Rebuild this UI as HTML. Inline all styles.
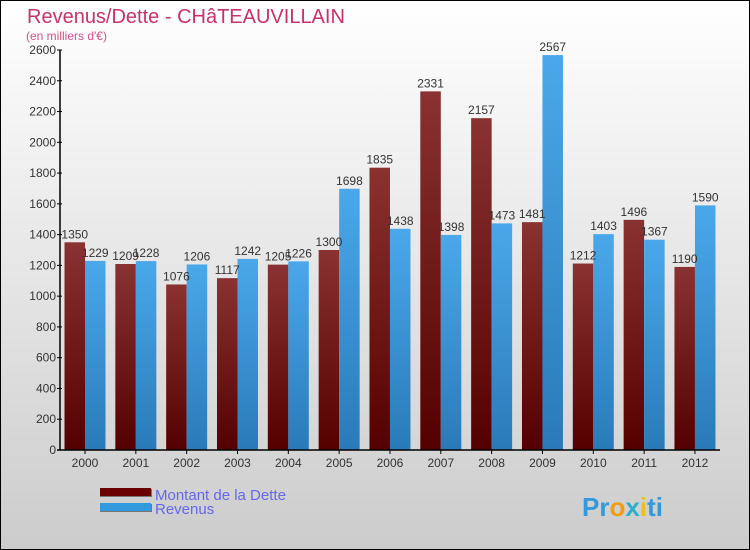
<!DOCTYPE html>
<html><head><meta charset="utf-8"><style>
body{margin:0}
#c{width:750px;height:550px;position:relative;overflow:hidden}
text{font-family:"Liberation Sans",sans-serif}
</style></head><body>
<div id="c">
<svg id="s" width="750" height="550" xmlns="http://www.w3.org/2000/svg">
<defs>
<linearGradient id="bg" x1="0" y1="0" x2="0" y2="1"><stop offset="0" stop-color="#ffffff"/><stop offset="1" stop-color="#cccccc"/></linearGradient>
<linearGradient id="gd" x1="0" y1="0" x2="0" y2="1"><stop offset="0" stop-color="#8a3232"/><stop offset="1" stop-color="#550000"/></linearGradient>
<linearGradient id="gr" x1="0" y1="0" x2="0" y2="1"><stop offset="0" stop-color="#4aa8ea"/><stop offset="1" stop-color="#2a7ab8"/></linearGradient>
</defs>
<rect x="0.5" y="0.5" width="749" height="549" fill="url(#bg)" stroke="#000"/>
<text x="27" y="23" font-size="20" fill="#c8326a">Revenus/Dette - CHâTEAUVILLAIN</text>
<text x="26" y="40" font-size="12" fill="#d0508a">(en milliers d'€)</text>
<g id="plot"></g>
<rect x="100" y="489" width="52" height="8" fill="#777"/>
<rect x="100" y="488" width="51" height="8" fill="#6a0000"/>
<text x="155" y="500" font-size="15" fill="#6666ee">Montant de la Dette</text>
<rect x="100" y="504" width="52" height="8" fill="#777"/>
<rect x="100" y="503" width="51" height="8" fill="#3399dd"/>
<text x="155" y="514" font-size="15" fill="#6666ee">Revenus</text>
<text x="582" y="516" font-size="26" font-weight="bold"><tspan fill="#3399dd">Pr</tspan><tspan fill="#f39c12">o</tspan><tspan fill="#2ab0c8">x</tspan><tspan fill="#e8c020">i</tspan><tspan fill="#3399dd">ti</tspan></text>
</svg>
</div>
<script>
const years=["2000","2001","2002","2003","2004","2005","2006","2007","2008","2009","2010","2011","2012"];
const dette=[1350,1209,1076,1117,1205,1300,1835,2331,2157,1481,1212,1496,1190];
const revenus=[1229,1228,1206,1242,1226,1698,1438,1398,1473,2567,1403,1367,1590];
const yTicks=[0,200,400,600,800,1000,1200,1400,1600,1800,2000,2200,2400,2600];
const NS="http://www.w3.org/2000/svg";
const g=document.getElementById('plot');
const x0=60,y0=450,yTop=50,yMax=2600,step=50.83,bw=20.5,x1=720;
const y=v=>y0-(v/yMax)*(y0-yTop);
const cx=i=>85+i*step;
function mk(t,a){const e=document.createElementNS(NS,t);for(const k in a)e.setAttribute(k,a[k]);g.appendChild(e);return e;}
yTicks.forEach(v=>{
 const l=mk('line',{x1:x0-3,x2:x0+2,y1:y(v),y2:y(v),stroke:'#000'});
 
 
 const t=mk('text',{x:x0-4,y:y(v)+4,'font-size':12,'text-anchor':'end',fill:'#333'});
 t.textContent=v;
 
 
});
years.forEach((yr,i)=>{
 const c=cx(i);
 const b1=mk('rect',{x:c-bw,y:y(dette[i]),width:bw,height:y0-y(dette[i]),fill:'url(#gd)'});
 
 
 const b2=mk('rect',{x:c,y:y(revenus[i]),width:bw,height:y0-y(revenus[i]),fill:'url(#gr)'});
 
 
 const t1=mk('text',{x:c-bw/2,y:y(dette[i])-4,'font-size':12,'text-anchor':'middle',fill:'#333'});
 t1.textContent=dette[i];
 
 
 const t2=mk('text',{x:c+bw/2,y:y(revenus[i])-4,'font-size':12,'text-anchor':'middle',fill:'#333'});
 t2.textContent=revenus[i];
 
 
 const tk=mk('line',{x1:c,x2:c,y1:y0,y2:y0+4,stroke:'#000'});
 
 
 const xl=mk('text',{x:c,y:y0+17,'font-size':12,'text-anchor':'middle',fill:'#333'});
 xl.textContent=yr;
 
 
});
const ya=mk('line',{x1:x0,x2:x0,y1:yTop,y2:y0,stroke:'#000','stroke-width':1.5});


const xa=mk('line',{x1:x0-3,x2:x1,y1:y0,y2:y0,stroke:'#000','stroke-width':1.5});


</script>
</body></html>
